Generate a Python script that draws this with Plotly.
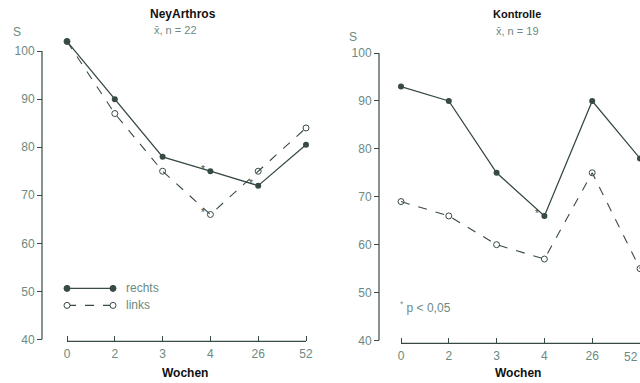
import plotly.graph_objects as go

weeks = ["0", "2", "3", "4", "26", "52"]
ney_rechts = [102, 90, 78, 75, 72, 80.5]
ney_links = [102, 87, 75, 66, 75, 84]
kon_rechts = [93, 90, 75, 66, 90, 78]
kon_links = [69, 66, 60, 57, 75, 55]
y_ticks = [40, 50, 60, 70, 80, 90, 100]

W, H = 640, 383
HE = 375.5  # effective vertical scale observed in rendering
LINE = "#374a45"
TICK = "#6b8a82"
FONT = "Liberation Sans, Arial, sans-serif"

def px(x):
    return x / W

def py(y):
    return 1 - y / HE

fig = go.Figure()

def add_panel(xa, ya, rechts, links):
    fig.add_trace(go.Scatter(
        x=list(range(len(weeks))), y=rechts, xaxis=xa, yaxis=ya, mode="lines+markers",
        name="rechts", line=dict(color=LINE, width=1.3),
        marker=dict(symbol="circle", size=6, color=LINE),
        cliponaxis=False, showlegend=False))
    fig.add_trace(go.Scatter(
        x=list(range(len(weeks))), y=links, xaxis=xa, yaxis=ya, mode="lines+markers",
        name="links", line=dict(color=LINE, width=1.1, dash="dash"),
        marker=dict(symbol="circle-open", size=6, color=LINE, line=dict(width=1)),
        cliponaxis=False, showlegend=False))

add_panel("x", "y", ney_rechts, ney_links)
add_panel("x2", "y2", kon_rechts, kon_links)

xcommon = dict(showgrid=False, zeroline=False, showline=False,
               ticks="inside", ticklen=5, tickwidth=1.2,
               tickcolor=LINE, tickfont=dict(family=FONT, size=12, color=TICK),
               ticklabelstandoff=4)
ycommon = dict(showgrid=False, zeroline=False, showline=False,
               ticks="outside", ticklen=5, tickwidth=1.2, tickcolor=LINE,
               tickvals=y_ticks, tickfont=dict(family=FONT, size=12, color=TICK),
               range=[40, 104])

n = len(weeks)
SP = 239 / 5.0
fig.update_layout(
    width=W, height=H, margin=dict(l=0, r=0, t=0, b=0),
    paper_bgcolor="white", plot_bgcolor="rgba(0,0,0,0)",
    font=dict(family=FONT), showlegend=False,
    xaxis=dict(xcommon, domain=[px(67 - 0.35 * SP), px(306 + 0.35 * SP)], range=[-0.35, 5.35],
               tickvals=list(range(n)), ticktext=weeks,
               anchor="free", position=py(341)),
    yaxis=dict(ycommon, domain=[py(339), py(339 - 64 * 4.8)], anchor="free", position=px(42)),
    xaxis2=dict(xcommon, domain=[px(401 - 0.35 * SP), 1.0], range=[-0.35, 5.0],
                tickvals=list(range(n - 1)), ticktext=weeks[:-1],
                anchor="free", position=py(343)),
    yaxis2=dict(ycommon, domain=[py(340), py(340 - 64 * 4.783)], anchor="free", position=px(379)),
)

# axis lines (spanning only the tick range, as in the original)
shapes = [
    dict(type="line", xref="paper", yref="y", x0=px(42), x1=px(42), y0=40, y1=100),
    dict(type="line", xref="paper", yref="y2", x0=px(379), x1=px(379), y0=40, y1=100),
    dict(type="line", xref="x", yref="paper", x0=0, x1=5, y0=py(341), y1=py(341)),
    dict(type="line", xref="x2", yref="paper", x0=0, x1=5, y0=py(343), y1=py(343)),
]
for s in shapes:
    s["line"] = dict(color=LINE, width=1.2)
    fig.add_shape(**s)

# hand-drawn style legend
for yy, dash, filled in [(288, "solid", True), (305, "dash", False)]:
    fig.add_shape(type="line", xref="paper", yref="paper", x0=px(67), x1=px(113),
                  y0=py(yy), y1=py(yy), line=dict(color=LINE, width=1.2, dash=dash))
    for xx in (67, 113):
        fig.add_shape(type="circle", xref="paper", yref="paper", xsizemode="pixel",
                      ysizemode="pixel", xanchor=px(xx), yanchor=py(yy),
                      x0=-3, x1=3, y0=-3, y1=3,
                      line=dict(color=LINE, width=1),
                      fillcolor=LINE if filled else "white")

ann = [
    dict(text="<b>NeyArthros</b>", x=px(183), y=py(14), font=dict(size=12, color="#111")),
    dict(text="x̄, n = 22", x=px(175), y=py(30), font=dict(size=11, color=TICK)),
    dict(text="<b>Kontrolle</b>", x=px(517), y=py(14), font=dict(size=11, color="#111")),
    dict(text="x̄, n = 19", x=px(517), y=py(31), font=dict(size=11, color=TICK)),
    dict(text="S", x=px(17), y=py(32), font=dict(size=12, color=TICK)),
    dict(text="S", x=px(353), y=py(37), font=dict(size=12, color=TICK)),
    dict(text="<b>Wochen</b>", x=px(185), y=py(373), font=dict(size=12, color="#111")),
    dict(text="<b>Wochen</b>", x=px(518), y=py(373), font=dict(size=12, color="#111")),
    dict(text="<sup>*</sup> p < 0,05", x=px(398), y=py(307), xanchor="left",
         font=dict(size=12, color=TICK)),
    dict(text="rechts", x=px(124), y=py(288), xanchor="left", font=dict(size=12, color=TICK)),
    dict(text="links", x=px(124), y=py(305), xanchor="left", font=dict(size=12, color=TICK)),
    dict(text=weeks[-1], x=px(640), y=py(357), xanchor="right", font=dict(size=12, color=TICK)),
]
for a in ann:
    a.setdefault("xanchor", "center")
    a["font"]["family"] = FONT
    fig.add_annotation(xref="paper", yref="paper", showarrow=False, yanchor="middle", **a)

# significance asterisks next to points
i4, i26 = weeks.index("4"), weeks.index("26")
stars = [("x", "y", i4, ney_rechts[i4]), ("x", "y", i4, ney_links[i4]),
         ("x", "y", i26, ney_rechts[i26]), ("x2", "y2", i4, kon_rechts[i4])]
for xa, ya, xv, yv in stars:
    fig.add_annotation(xref=xa, yref=ya, x=xv, y=yv, text="*", showarrow=False,
                       xshift=-7, yshift=2, font=dict(size=10, color=LINE, family=FONT))

fig.write_html("out.html")
